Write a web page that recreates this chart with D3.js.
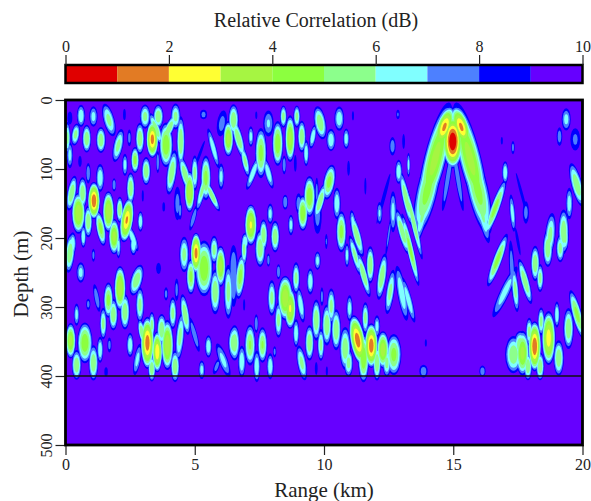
<!DOCTYPE html>
<html lang="en">
<head>
<meta charset="utf-8">
<title>Relative Correlation</title>
<script src="https://cdnjs.cloudflare.com/ajax/libs/d3/7.8.5/d3.min.js"></script>
<style>
  html, body { margin: 0; padding: 0; background: #fff; }
  svg { display: block; }
  text { font-family: "Liberation Serif", serif; fill: #222; }
</style>
</head>
<body>
<script>
// colour bands, 0-1 dB first
var bandColors = ["#e00000", "#e27b24", "#ffff33", "#a6f542", "#8cff3f", "#8cff8c", "#80ffff", "#4d80ff", "#0000ff", "#6600ff"];
var barTicks = [0, 2, 4, 6, 8, 10];
var rangeTicks = [0, 5, 10, 15, 20];
var depthTicks = [0, 100, 200, 300, 400, 500];
var bottomDepth = 400;

// correlation lobes: range km, depth m, half width km, half height m, tilt deg, peak dB
var upperLeft = [
  [.60,23,.12,12,0,6],[1.08,24,.12,11,0,6.5],[1.68,29,.16,18,-15,5.5],[.17,26,.07,7,0,8],[.08,55,.08,17,0,5.5],
  [.39,50,.12,12,8,5.5],[.17,80,.09,14,0,6.5],[.82,56,.13,15,0,5],[1.37,58,.14,14,0,5],[2.04,66,.14,18,12,5.5],
  [2.47,55,.06,9,0,7.5],[2.28,21,.04,6,0,8.3],[.56,89,.05,6,0,8],[3.08,24,.15,13,0,5.5],[3.59,24,.15,13,0,5],
  [4.26,24,.14,14,0,5.5],[3.36,57,.18,20,0,1.5],[3.89,65,.2,24,0,4],[4.0,42,.13,18,25,5],[3.5,42,.12,18,-20,5],
  [2.88,56,.13,17,0,5],[2.69,87,.12,14,0,4.5],[3.12,103,.13,15,0,5],[2.3,94,.08,12,0,6.5],[2.52,128,.12,17,0,5],
  [3.57,90,.05,12,0,7],[4.46,60,.12,27,0,5],[4.11,105,.14,24,8,5],[4.63,108,.13,20,-15,5],[4.8,133,.15,22,0,3],
  [5.0,106,.1,19,0,5.5],[5.43,113,.15,24,0,4.5],[5.66,138,.1,19,-25,5],[5.3,130,.1,24,15,5.5],[4.95,171,.07,14,15,7],
  [4.33,150,.1,18,0,7.5],[4.43,160,.06,10,0,7.5],[5.34,21,.1,5,0,7.5],[5.72,70,.09,22,-15,6],[6.02,111,.09,14,0,6.5],
  [6.05,34,.14,14,8,7.5],[6.3,56,.15,19,0,3.5],[6.5,29,.15,17,0,5],[2.9,176,.08,11,0,6],[3.8,155,.04,5,0,8],
  [2.99,139,.03,6,0,8.5],[5.2,78,.04,15,20,8],[.88,106,.07,11,0,7],[1.34,113,.12,15,0,6],[.24,135,.13,19,10,5],
  [.66,135,.13,17,0,5],[.5,164,.2,22,0,3],[1.1,146,.18,20,0,1],[.88,176,.12,17,0,5],[1.66,162,.17,22,0,3],
  [1.36,186,.13,19,-10,4.5],[1.88,123,.06,7,0,7],[1.88,198,.16,19,0,3.5],[2.37,174,.19,24,8,1.8],[2.1,159,.1,14,0,5],
  [.69,198,.08,12,0,6],[.28,208,.1,12,0,6],[2.6,200,.1,15,-20,6]
];
var lowerLeft = [
  [.17,222,.14,21,5,5],[2.05,212,.07,13,0,6.5],[2.63,210,.1,11,0,6],[1.08,225,.05,7,0,7.5],[.59,250,.12,11,0,6.5],
  [3.6,244,.07,6,0,8],[5.05,222,.16,22,0,1.5],[4.59,224,.14,19,0,5.5],[4.85,256,.13,19,0,4.5],[5.36,244,.26,30,0,4],
  [5.75,217,.12,15,0,5.5],[6.0,241,.15,22,0,3.5],[6.5,244,.12,25,0,7],[5.79,278,.15,24,0,5],[6.3,278,.13,29,0,5.5],
  [2.75,261,.17,17,15,5],[2.11,273,.17,24,0,3],[1.66,290,.14,19,0,4.5],[1.85,311,.13,17,0,5],[2.3,307,.14,19,0,5],
  [2.88,297,.12,19,0,5.5],[1.21,287,.08,15,-10,7],[.88,296,.06,6,0,7.5],[1.46,324,.1,17,0,5.5],[.43,311,.08,12,0,6.5],
  [.2,349,.15,19,0,3.5],[.75,352,.22,22,0,4],[.43,384,.14,16,0,5],[1.08,381,.14,19,0,5],[1.34,362,.09,14,0,6],
  [1.7,355,.06,8,0,7.5],[1.57,394,.05,5,0,8],[2.5,355,.1,13,0,6],[2.78,376,.1,17,10,6.5],[3.17,352,.2,28,0,1.3],
  [3.34,326,.09,14,0,5.5],[2.95,336,.1,14,-10,5],[3.55,365,.15,22,0,2],[3.94,355,.18,27,0,3],[3.72,333,.14,17,0,5],
  [3.34,389,.11,14,0,5],[4.24,386,.13,17,0,5],[4.3,275,.06,12,0,7.5],[3.89,281,.06,7,0,7.5],[4.15,309,.11,17,0,5.5],
  [4.63,311,.12,22,-8,5],[4.43,343,.12,26,5,5.5],[4.99,340,.08,19,-15,7],[5.53,357,.1,12,0,6],[5.27,391,.09,10,0,6.5],
  [6.5,352,.15,17,0,5],[6.1,377,.13,19,-20,6.5],[5.85,386,.08,9,20,7.5]
];
var upperMiddle = [
  [6.69,56,.13,22,-15,5],[6.95,89,.1,17,-12,5.5],[7.17,53,.08,11,0,6.5],[7.56,77,.17,27,0,4.5],[7.25,106,.1,19,20,6],
  [7.85,106,.1,17,-15,6],[7.85,34,.15,14,0,6.8],[7.38,22,.03,4,0,8.5],[8.43,24,.1,12,0,5.5],[8.95,24,.1,12,0,5.5],
  [8.21,63,.16,24,0,4],[8.69,56,.15,25,0,3.5],[9.14,53,.12,17,0,5],[9.31,77,.08,14,0,6],[8.46,94,.06,10,0,7],
  [8.89,92,.04,9,0,8],[9.57,53,.09,13,10,6],[9.85,33,.17,18,-10,5],[10.59,27,.14,13,0,6],[10.27,58,.13,12,0,6],
  [10.86,56,.09,11,0,6.3],[11.12,23,.03,5,0,8],[12.86,21,.05,5,0,7.8],[12.65,67,.09,10,0,7.2],[13.08,60,.04,8,0,8],
  [10.95,99,.04,8,0,8],[11.6,125,.03,9,0,8],[12.89,104,.1,13,0,6],[13.27,94,.05,13,0,6.5],[13.18,143,.11,30,-12,5],
  [12.3,143,.05,28,15,8],[12.15,164,.08,12,0,6.8],[12.67,162,.1,22,0,6.5],[12.5,196,.04,22,8,7.5],[13.03,191,.12,25,-15,5],
  [10.2,119,.17,19,10,4.5],[9.44,140,.17,22,0,4],[9.85,147,.12,20,15,5],[9.18,164,.15,19,0,4],[9.75,167,.12,20,0,7.5],
  [10.5,150,.11,17,0,6],[9.72,133,.05,15,0,7.5],[8.5,148,.08,8,0,7],[9.02,150,.09,11,0,7.2],[8.72,181,.08,11,0,6.5],
  [7.17,181,.18,22,0,2.8],[7.92,165,.09,11,0,6.5],[7.66,196,.12,17,0,5],[8.11,198,.13,17,0,5],[6.95,205,.1,9,0,6],
  [10.67,191,.15,22,0,4.5],[11.27,196,.12,24,-15,5],[10.09,205,.04,8,0,7.8],[11.12,176,.08,12,-8,6.5]
];
var lowerMiddle = [
  [6.91,217,.09,17,0,5.5],[7.53,215,.15,20,0,5],[7.85,232,.05,7,0,7.2],[9.75,233,.09,10,0,6.5],[6.76,256,.14,24,5,4.5],
  [6.5,262,.12,28,0,7],[8.24,249,.06,8,0,7],[8.92,258,.11,17,0,5.5],[9.47,263,.1,14,0,6],[7.98,287,.12,19,0,5.5],
  [8.5,287,.22,24,0,3],[8.69,302,.17,22,0,2.8],[8.24,319,.11,19,0,5.5],[9.1,297,.1,19,-8,6],[8.92,338,.09,15,0,6],
  [9.92,285,.05,10,0,7.5],[9.7,319,.13,22,0,5],[10.28,299,.12,19,0,5.5],[10.11,326,.14,22,0,5],[9.44,352,.13,19,0,5],
  [9.88,355,.1,17,0,5.5],[10.47,333,.14,22,0,5],[9.14,381,.13,19,-10,5.5],[10.99,302,.09,14,0,6.3],[11.3,348,.22,27,-10,1.3],
  [11.83,356,.2,24,0,1.2],[11.6,316,.1,17,0,5.5],[12.05,328,.09,12,0,6.5],[12.28,362,.18,20,0,3.2],[12.7,369,.22,22,0,4.5],
  [10.82,360,.16,23,0,5],[10.95,381,.13,15,0,5.5],[11.53,374,.16,26,0,4],[12.05,381,.12,19,0,5],[12.43,381,.12,15,0,5.5],
  [7.38,324,.06,10,0,7],[6.54,352,.15,19,0,5],[7.14,355,.16,22,0,4.8],[7.62,355,.14,19,0,4.8],[6.82,379,.11,17,0,6],
  [7.4,386,.1,17,0,6],[7.92,386,.1,14,0,6],[8.09,365,.05,6,0,7.5],[9.7,389,.04,7,0,8],[10.11,393,.03,5,0,8.3],
  [6.91,297,.03,6,0,8],[12.24,256,.13,25,8,5],[12.56,278,.12,24,8,5.5],[11.79,239,.12,20,0,5],[11.53,253,.11,25,-15,5],
  [11.2,225,.1,22,-15,5.5],[10.89,225,.07,13,0,6.5],[13.01,280,.13,30,-10,6],[13.27,290,.1,25,-15,6]
];
var archLobes = [
  [14.3,85,.32,62,14,3.5],[15.65,85,.32,62,-14,3.5],[14.98,60,.3,29,0,0],[14.66,39,.24,23,18,1.7],[15.31,39,.24,23,-18,1.7],
  [14.0,130,.3,50,13,4.5],[15.95,130,.3,50,-13,4.5],[13.85,160,.14,36,12,5.5],[16.1,160,.14,36,-12,5.5],
  [14.79,113,.08,36,9,7],[15.18,113,.08,36,-9,7],[13.46,176,.09,42,-13,5],[13.34,217,.1,40,-13,4.5],
  [17.01,105,.09,12,0,6],[16.62,157,.13,33,20,4.5],[16.71,232,.13,30,20,4.5],[17.29,164,.08,20,-5,6.3],[17.66,138,.04,25,-15,8],
  [17.81,163,.09,12,0,7.5],[17.5,205,.04,15,-10,8],[17.31,69,.05,7,0,7.5],[16.88,59,.03,4,0,8.3]
];
var upperRight = [
  [19.37,28,.13,12,0,6.5],[19.11,53,.08,10,0,7.3],[19.72,57,.14,12,0,7.7],[19.78,123,.16,24,-15,5],[19.49,150,.1,17,0,6.3],
  [18.75,196,.15,24,5,5.5],[19.27,191,.15,24,0,5],[17.27,244,.08,30,-3,7.3],[17,278,.14,30,25,6.3],[17.4,275,.1,24,-5,5.5],
  [17.78,263,.12,25,-15,5],[18.17,237,.13,19,0,5],[18.36,258,.1,15,0,5.5],[18.66,215,.14,20,0,5],[19.14,215,.12,15,0,5.5],[19.33,200,.1,14,0,5.5]
];
var lowerRight = [
  [19.79,311,.14,27,-15,4.5],[19.46,331,.15,22,0,5],[19.01,311,.08,14,0,6],[18.69,345,.2,29,0,2.3],[18.4,321,.1,15,0,5.5],
  [18.15,357,.19,27,0,1],[17.94,336,.1,15,0,5.5],[17.68,367,.2,24,0,3.5],[17.33,369,.24,20,0,5],[17.89,386,.12,15,0,5],
  [18.36,386,.12,15,0,5],[19.08,374,.15,19,0,5],[17.59,355,.18,15,0,5],[13.85,393,.12,7,0,7.3],[16.13,393,.09,6,0,7.2],[13.94,352,.03,4,0,8]
];

var lobes = [].concat(upperLeft, lowerLeft, upperMiddle, lowerMiddle, archLobes, upperRight, lowerRight);

var w = 591, h = 501;
var spread = 1.35;   // lobes read at their green core, the blue rim sits further out
var svg = d3.select("body").append("svg").attr("width", w).attr("height", h);

var x = d3.scaleLinear().domain([0, 20]).range([65.5, 582.5]);
var y = d3.scaleLinear().domain([0, 500]).range([100, 445]);
var barX = d3.scaleLinear().domain([0, 10]).range([65.5, 582.5]);

svg.append("clipPath").attr("id", "plot").append("rect")
  .attr("x", x(0)).attr("y", y(0)).attr("width", x(20) - x(0)).attr("height", y(500) - y(0));

// background is the top band
svg.append("rect").attr("x", x(0)).attr("y", y(0))
  .attr("width", x(20) - x(0)).attr("height", y(500) - y(0))
  .attr("fill", bandColors[9]);

var field = svg.append("g").attr("clip-path", "url(#plot)");

// one layer per dB level, deeper bands painted over the shallower ones
d3.range(9, 0, -1).forEach(function(level) {
  var inside = lobes.filter(function(d) { return d[5] < level; });
  field.append("g").attr("fill", bandColors[level - 1])
    .selectAll("ellipse").data(inside).enter().append("ellipse")
    .attr("transform", function(d) {
      return "translate(" + x(d[0]) + "," + y(d[1]) + ") rotate(" + d[4] + ")";
    })
    .attr("rx", function(d) { return spread * (x(d[2]) - x(0)) * Math.sqrt((level - d[5]) / (9 - d[5])); })
    .attr("ry", function(d) { return spread * (y(d[3]) - y(0)) * Math.sqrt((level - d[5]) / (9 - d[5])); });
});

// sea floor line
svg.append("line").attr("x1", x(0)).attr("x2", x(20))
  .attr("y1", y(bottomDepth)).attr("y2", y(bottomDepth))
  .attr("stroke", "#111").attr("stroke-width", 1.5);

// axes
var xAxis = svg.append("g").attr("transform", "translate(0," + y(500) + ")")
  .call(d3.axisBottom(x).tickValues(rangeTicks).tickSize(10).tickPadding(4));
var yAxis = svg.append("g").attr("transform", "translate(" + x(0) + ",0)")
  .call(d3.axisLeft(y).tickValues(depthTicks).tickSize(10));
yAxis.selectAll("text")
  .attr("x", 0).attr("dy", null)
  .attr("transform", "translate(-14,0) rotate(-90)")
  .attr("text-anchor", "middle");

// colour bar
var bar = svg.append("g");
bar.selectAll("rect").data(bandColors).enter().append("rect")
  .attr("x", function(d, i) { return barX(i); })
  .attr("y", 65).attr("width", barX(1) - barX(0)).attr("height", 18)
  .attr("fill", function(d) { return d; });
bar.append("rect").attr("x", barX(0)).attr("y", 65).attr("width", barX(10) - barX(0)).attr("height", 18)
  .attr("fill", "none").attr("stroke", "#000").attr("stroke-width", 2.5);
var barAxis = svg.append("g").attr("transform", "translate(0,65)")
  .call(d3.axisTop(barX).tickValues(barTicks).tickSize(10).tickPadding(3));

[xAxis, yAxis, barAxis].forEach(function(a) {
  a.select(".domain").remove();
  a.selectAll("line").attr("stroke", "#222").attr("stroke-width", 1.2);
  a.selectAll("text").style("font-family", "Liberation Serif").style("font-size", "16px").attr("fill", "#222");
});

// plot frame
svg.append("rect").attr("x", x(0)).attr("y", y(0))
  .attr("width", x(20) - x(0)).attr("height", y(500) - y(0))
  .attr("fill", "none").attr("stroke", "#000").attr("stroke-width", 2.8);

// titles
svg.append("text").attr("x", 316).attr("y", 27).attr("text-anchor", "middle")
  .style("font-size", "20px").text("Relative Correlation (dB)");
svg.append("text").attr("x", 324).attr("y", 497).attr("text-anchor", "middle")
  .style("font-size", "21px").text("Range (km)");
svg.append("text").attr("transform", "translate(28,274) rotate(-90)").attr("text-anchor", "middle")
  .style("font-size", "21px").text("Depth (m)");
</script>
</body>
</html>
